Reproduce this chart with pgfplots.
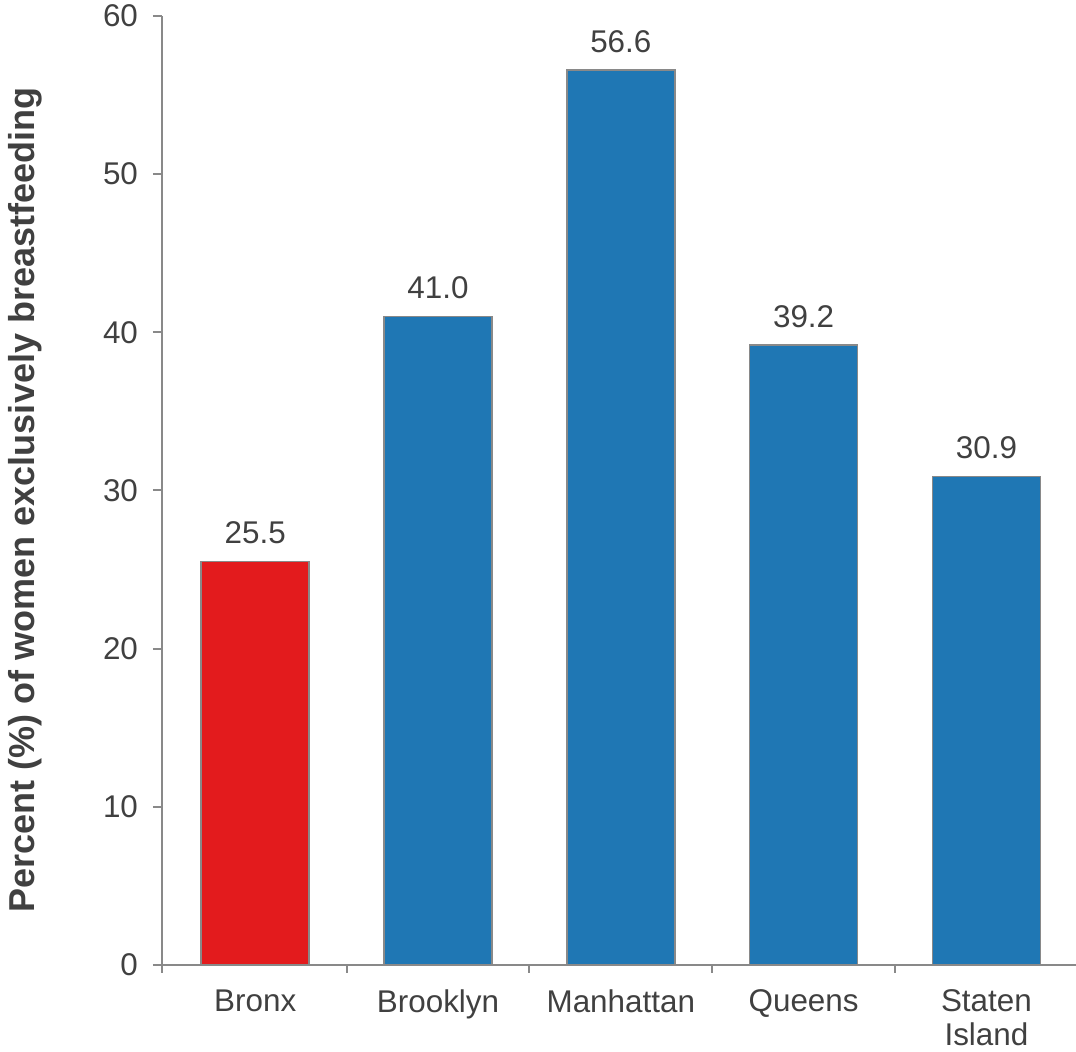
\documentclass[border=0pt]{standalone}
\usepackage{fontspec}
\setmainfont{Liberation Sans}
\usepackage{pgfplots}
\pgfplotsset{compat=1.18}
\definecolor{barblue}{RGB}{31,119,180}
\definecolor{barred}{RGB}{227,27,29}
\definecolor{axgray}{RGB}{137,137,137}
\definecolor{txt}{RGB}{64,64,64}
\begin{document}
\begin{tikzpicture}
\begin{axis}[
  scale only axis, width=457pt, height=474.5pt,
  xmin=-0.51, xmax=4.49, ymin=0, ymax=60,
  axis x line*=bottom, axis y line*=left,
  axis line style={axgray, line width=1pt},
  tick align=outside,
  major tick length=4.5pt, minor tick length=4pt,
  tick style={axgray, line width=1pt},
  major x tick style={draw=none},
  xtick={0,1,2,3,4},
  minor xtick={0.5,1.5,2.5,3.5},
  extra x ticks={-0.51}, extra x tick labels={},
  extra x tick style={major tick length=4pt, major x tick style={draw=axgray}},
  xticklabels={Bronx,Brooklyn,Manhattan,Queens,{Staten\\Island}},
  ytick={0,10,20,30,40,50,60},
  /pgf/number format/assume math mode=true,
  tick label style={font=\fontsize{15.7}{17}\selectfont, text=txt},
  xticklabel style={align=center, anchor=north, yshift=-4.5pt},
  yticklabel style={xshift=-4pt},
  ylabel={Percent (\%) of women exclusively breastfeeding},
  ylabel style={font=\fontsize{18}{20}\selectfont\bfseries, text=txt,
    at={(axis description cs:0,0.49)}, anchor=center, yshift=68.5pt},
  ybar, bar width=54pt, bar shift=0pt,
  nodes near coords={\pgfmathprintnumber[fixed,fixed zerofill,precision=1,assume math mode=true]{\pgfplotspointmeta}},
  nodes near coords style={font=\fontsize{15.7}{17}\selectfont, text=txt, yshift=5pt},
]
\addplot[ybar, fill=barred, draw=axgray, line width=0.75pt] coordinates {(0,25.5)};
\addplot[ybar, fill=barblue, draw=axgray, line width=0.75pt] coordinates {(1,41.0) (2,56.6) (3,39.2) (4,30.9)};
\end{axis}
\pgfresetboundingbox
\useasboundingbox (-81pt,-43.5pt) rectangle (457pt,482.5pt);
\end{tikzpicture}
\end{document}
